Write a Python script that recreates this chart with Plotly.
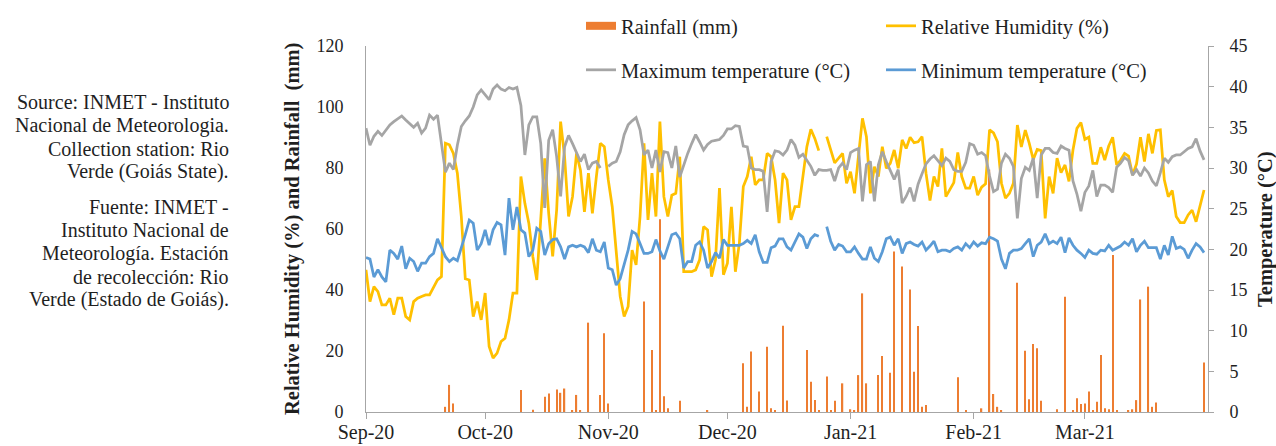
import pandas as pd
import plotly.graph_objects as go

# Daily series, 1 Sep 2020 - 31 Mar 2021 (None = missing reading)
days = pd.date_range("2020-09-01", "2021-03-31", freq="D")

relative_humidity = [
    46.6, 36.2, 41.1, 39.5, 35.1, 35.1, 37.3, 31.9, 37.3, 37.3,
    31.3, 30.2, 36.2, 37.3, 37.9, 38.4, 38.4, 41.1, 43.3, 44.4,
    88.1, 87.6, 84.8, 78.3, 64.1, 43.7, 43.3, 31.3, 36.2, 30.2,
    39.0, 21.5, 17.7, 19.3, 23.1, 24.2, 30.2, 39.0, 39.0, 77.2,
    68.4, 61.9, 51.0, 43.3, 61.9, 83.2, 65.1, 51.0, 66.2, 95.2,
    83.7, 64.1, 70.6, 84.8, 79.3, 65.6, 78.3, 65.1, 77.2, 88.1,
    87.0, 76.1, 67.3, 52.0, 37.9, 31.3, 34.6, 53.1, 48.2, 64.1,
    88.1, 63.0, 78.3, 64.1, 95.2, 70.6, 64.1, 71.1, 71.7, 83.7,
    46.0, 46.0, 46.0, 46.6, 49.9, 60.8, 59.7, 44.4, 49.9, 73.4,
    45.0, 48.8, 67.3, 46.0, 55.3, 73.9, 77.2, 83.7, 74.5, 76.1,
    76.1, 84.8, 83.7, 76.1, 61.9, 78.3, 76.1, 63.0, 67.3, 67.3,
    77.2, 87.0, 92.7, 89.7, 85.7, None, 90.3, 85.9, 81.7, 83.2,
    84.8, 75.0, 78.8, 71.7, 83.7, 96.3, 90.3, 71.7, 80.4, 77.2,
    87.0, 79.9, 81.5, 85.9, 79.9, 89.2, 86.4, 90.1, 88.3, 88.6,
    90.3, 78.3, 69.3, 77.2, 73.9, 86.4, 70.6, 72.8, 75.2, 85.1,
    77.2, 73.4, 73.4, 77.2, 71.1, 73.7, 74.8, 92.5, 91.5, 88.6,
    75.0, 70.1, 71.7, 75.0, 94.1, 86.9, 92.4, 88.1, 82.8, 86.1,
    85.7, 63.5, 77.2, 71.7, 83.2, 78.5, 81.0, 75.6, 85.9, 93.0,
    94.9, 89.4, 90.1, 81.5, 81.5, 86.8, 82.6, 87.2, 90.1, 81.0,
    82.6, 84.8, 83.9, 77.7, 81.3, 90.1, 82.1, 91.2, 84.8, 92.3,
    92.5, 76.1, 70.6, 72.6, 64.1, 62.1, 62.1, 64.6, 66.2, 62.4,
    67.9, 72.8,
]

max_temperature = [
    34.9, 32.8, 33.9, 34.5, 34.0, 34.7, 35.3, 35.7, 36.0, 36.4,
    35.9, 35.5, 35.0, 35.5, 34.3, 34.9, 36.5, 36.0, 36.5, 33.0,
    29.5, 30.6, 29.8, 32.8, 35.1, 35.8, 36.4, 37.5, 39.0, 39.6,
    39.0, 38.4, 39.7, 40.2, 39.7, 39.5, 39.9, 39.7, 39.9, 37.7,
    31.6, 35.3, 36.3, 36.3, 33.0, 25.1, 33.4, 34.7, 31.4, 26.5,
    32.6, 34.0, 33.0, 31.8, 30.8, 31.7, 29.8, 30.6, 30.8, 30.0,
    None, 30.2, 30.6, 30.8, 32.0, 34.1, 35.3, 35.8, 36.2, 34.7,
    31.6, 32.2, 30.0, 32.2, 29.5, 32.0, 31.9, 30.0, 32.7, 28.9,
    30.4, 31.8, 33.0, 34.1, 33.2, 32.2, 32.9, 33.3, 33.4, 33.5,
    34.0, 34.8, 34.8, 35.2, 35.1, 32.7, 32.6, 30.0, 29.8, 29.8,
    29.6, 24.6, 30.8, 32.1, 32.0, 31.6, 32.2, 33.5, 32.8, 31.3,
    31.7, 31.0, 30.2, 29.1, 29.8, 29.7, 29.7, 29.8, 28.4, 30.0,
    30.6, 29.8, 31.9, 32.2, 32.4, 25.9, 30.4, 30.8, 25.9, 30.4,
    32.0, 30.8, 29.8, 28.6, 29.8, 25.7, 26.5, 27.6, 25.9, 28.0,
    29.3, 30.5, 31.1, 31.5, 30.9, 30.3, 31.2, 30.8, 29.8, 29.6,
    29.6, 30.7, 33.0, 32.8, 31.7, 31.9, 31.5, 29.0, 27.1, 27.4,
    30.6, 31.7, 31.2, 30.2, 23.8, 28.7, 30.1, 29.7, 31.2, 26.3,
    31.6, 32.4, 32.4, 31.9, 31.8, 32.7, 32.4, 32.2, 28.4, 26.8,
    24.7, 27.0, 27.8, 29.7, 26.5, 27.9, 27.9, 27.6, 27.0, 30.1,
    30.6, 31.3, 30.9, 29.1, 29.8, 29.0, 30.0, 29.4, 28.4, 27.8,
    29.4, 31.2, 30.7, 31.4, 31.6, 31.6, 32.0, 32.4, 32.6, 33.6,
    32.1, 31.0,
]

min_temperature = [
    19.0, 18.8, 16.6, 17.5, 16.6, 16.0, 19.9, 19.5, 18.8, 20.4,
    17.6, 18.9, 18.5, 17.3, 18.3, 18.3, 19.1, 19.5, 21.3, 20.1,
    19.1, 18.5, 18.9, 18.6, 20.1, 21.8, 23.6, 23.2, 19.9, 20.7,
    22.4, 20.5, 22.4, 23.3, 23.0, 19.3, 26.3, 22.4, 25.2, 22.4,
    22.0, 19.1, 19.9, 22.6, 22.2, 19.3, 20.7, 21.2, 21.3, 20.3,
    18.8, 20.3, 20.5, 20.3, 20.5, 20.3, 19.6, 21.3, 19.9, 19.7,
    20.9, 17.7, 17.5, 15.6, 16.4, 18.3, 19.9, 22.2, 21.9, 20.7,
    19.5, 19.5, 19.7, 21.2, 19.8, 18.8, 20.3, 21.8, 22.0, 21.3,
    17.7, 18.5, 18.5, 20.5, 20.9, 19.9, 17.7, 18.5, 19.6, 18.9,
    21.2, 20.5, 20.5, 20.5, 20.5, 20.7, 21.1, 20.7, 21.8, 19.7,
    18.4, 18.4, 20.2, 20.4, 21.3, 21.3, 20.3, 19.9, 21.0, 21.9,
    21.5, 20.1, 21.3, 21.8, 21.6, None, 22.8, 21.0, 19.9, 20.6,
    20.4, 19.7, 19.7, 20.3, 19.5, 18.8, 18.8, 20.3, 18.9, 18.5,
    19.7, 21.3, 21.5, 20.5, 21.3, 19.5, 20.7, 20.9, 20.6, 20.4,
    20.9, 19.9, 20.4, 21.0, 19.7, 19.9, 19.9, 19.7, 20.1, 20.3,
    19.9, 20.7, 20.2, 20.9, 20.4, 20.8, 20.7, 21.5, 21.3, 21.0,
    18.8, 17.6, 19.5, 19.9, 19.9, 20.1, 20.7, 21.3, 19.1, 20.5,
    20.9, 21.9, 20.7, 21.0, 20.7, 21.5, 19.6, 21.4, 20.5, 19.9,
    19.5, 19.0, 19.9, 19.5, 19.4, 19.9, 19.8, 20.5, 19.9, 20.1,
    20.4, 20.9, 20.5, 21.3, 19.7, 20.5, 21.0, 20.2, 20.2, 20.2,
    18.8, 20.5, 19.3, 21.6, 20.1, 20.3, 20.0, 18.9, 19.9, 20.7,
    20.3, 19.6,
]

# Rainy days only (mm); all other days recorded 0 mm
rain_dates = [
    "2020-09-21", "2020-09-22", "2020-09-23", "2020-10-10", "2020-10-13",
    "2020-10-16", "2020-10-17", "2020-10-19", "2020-10-20", "2020-10-21",
    "2020-10-23", "2020-10-24", "2020-10-25", "2020-10-27", "2020-10-30",
    "2020-10-31", "2020-11-01", "2020-11-10", "2020-11-12", "2020-11-13",
    "2020-11-14", "2020-11-15", "2020-11-16", "2020-11-19", "2020-11-26",
    "2020-12-05", "2020-12-06", "2020-12-07", "2020-12-09", "2020-12-11",
    "2020-12-12", "2020-12-13", "2020-12-15", "2020-12-16", "2020-12-21",
    "2020-12-22", "2020-12-23", "2020-12-24", "2020-12-26", "2020-12-27",
    "2020-12-28", "2020-12-30", "2021-01-01", "2021-01-02", "2021-01-03",
    "2021-01-04", "2021-01-05", "2021-01-08", "2021-01-09", "2021-01-11",
    "2021-01-12", "2021-01-14", "2021-01-16", "2021-01-17", "2021-01-18",
    "2021-01-19", "2021-01-20", "2021-01-28", "2021-01-30", "2021-02-03",
    "2021-02-05", "2021-02-06", "2021-02-07", "2021-02-08", "2021-02-12",
    "2021-02-14", "2021-02-15", "2021-02-16", "2021-02-17", "2021-02-18",
    "2021-02-22", "2021-02-24", "2021-02-26", "2021-02-27", "2021-02-28",
    "2021-03-01", "2021-03-02", "2021-03-03", "2021-03-04", "2021-03-05",
    "2021-03-06", "2021-03-07", "2021-03-08", "2021-03-09", "2021-03-12",
    "2021-03-13", "2021-03-14", "2021-03-15", "2021-03-17", "2021-03-18",
    "2021-03-19", "2021-03-31",
]
rain_mm = [
    1.7, 8.9, 2.8, 7.2, 0.7,
    5.0, 6.1, 7.4, 6.3, 7.7,
    0.6, 5.6, 0.5, 29.3, 5.6,
    25.8, 2.8, 36.2, 20.3, 0.5,
    63.2, 5.2, 1.2, 3.7, 0.5,
    16.0, 1.7, 19.8, 6.7, 21.4,
    1.2, 0.6, 28.3, 3.8, 20.3,
    9.9, 3.9, 0.4, 11.6, 0.4,
    3.7, 9.4, 0.9, 0.4, 12.1,
    38.9, 9.4, 12.1, 18.4, 12.9,
    52.6, 47.7, 40.2, 13.2, 28.2,
    1.7, 2.3, 11.4, 0.4, 1.2,
    79.5, 5.9, 1.7, 0.4, 42.4,
    20.1, 4.2, 22.3, 20.9, 3.7,
    0.9, 37.8, 0.4, 4.5, 2.6,
    2.8, 6.7, 0.5, 3.4, 18.7,
    1.2, 0.9, 51.5, 0.4, 0.4,
    0.9, 3.9, 36.9, 41.1, 1.7,
    3.1, 16.2,
]

month_ticks = ["2020-09-01", "2020-10-01", "2020-11-01", "2020-12-01",
               "2021-01-01", "2021-02-01", "2021-03-01"]
month_labels = ["Sep-20", "Oct-20", "Nov-20", "Dec-20", "Jan-21", "Feb-21", "Mar-21"]

source_lines = [
    "Source: INMET - Instituto",
    "Nacional de Meteorologia.",
    "Collection station: Rio",
    "Verde (Goiás State).",
]
fuente_lines = [
    "Fuente: INMET -",
    "Instituto Nacional de",
    "Meteorología. Estación",
    "de recolección: Rio",
    "Verde (Estado de Goiás).",
]

SERIF = "Liberation Serif"
TEXT = "#1f1f1f"
AXIS = "#a6a6a6"
ORANGE = "#ED7D31"
YELLOW = "#FFC000"
GREY = "#A5A5A5"
BLUE = "#5B9BD5"

# pixel geometry of the plotting area
W, H = 1276, 446
L, R, T, B = 366, 68, 46, 34
PW, PH = W - L - R, H - T - B


def px_x(x):
    return (x - L) / PW


def px_y(y):
    return (H - B - y) / PH


fig = go.Figure()

fig.add_trace(go.Bar(
    x=rain_dates, y=rain_mm, name="Rainfall (mm)",
    marker=dict(color=ORANGE, line=dict(width=0)),
    width=0.32 * 86400000, showlegend=False, yaxis="y",
))
# legend swatch for the rainfall bars
fig.add_trace(go.Scatter(
    x=[None], y=[None], mode="lines", name="Rainfall (mm)",
    line=dict(color=ORANGE, width=8), legend="legend", yaxis="y",
))
fig.add_trace(go.Scatter(
    x=days, y=relative_humidity, mode="lines", name="Relative Humidity (%)",
    line=dict(color=YELLOW, width=2.75), connectgaps=False,
    legend="legend2", yaxis="y",
))
fig.add_trace(go.Scatter(
    x=days, y=max_temperature, mode="lines", name="Maximum temperature (°C)",
    line=dict(color=GREY, width=2.75), connectgaps=False,
    legend="legend3", yaxis="y2",
))
fig.add_trace(go.Scatter(
    x=days, y=min_temperature, mode="lines", name="Minimum temperature (°C)",
    line=dict(color=BLUE, width=2.75), connectgaps=False,
    legend="legend4", yaxis="y2",
))

legend_font = dict(family=SERIF, size=20.5, color=TEXT)


def legend_box(x_px, y_px):
    return dict(x=px_x(x_px), y=px_y(y_px), xanchor="left", yanchor="middle",
                orientation="h", font=legend_font, bgcolor="rgba(0,0,0,0)",
                borderwidth=0, itemsizing="trace")


annotations = []
for i, line in enumerate(source_lines):
    annotations.append(dict(
        text=line, x=px_x(231), y=px_y(102 + 23.3 * i), xref="paper", yref="paper",
        xanchor="right", yanchor="middle", showarrow=False,
        font=dict(family=SERIF, size=20, color=TEXT)))
for i, line in enumerate(fuente_lines):
    annotations.append(dict(
        text=line, x=px_x(231), y=px_y(207 + 23.2 * i), xref="paper", yref="paper",
        xanchor="right", yanchor="middle", showarrow=False,
        font=dict(family=SERIF, size=20, color=TEXT)))

annotations.append(dict(
    text="<b>Relative Humidity (%) and Rainfall  (mm)</b>", textangle=-90,
    x=px_x(292), y=0.5, xref="paper", yref="paper", xanchor="center", yanchor="middle",
    showarrow=False, font=dict(family=SERIF, size=20.5, color=TEXT)))
annotations.append(dict(
    text="<b>Temperature (°C)</b>", textangle=-90,
    x=px_x(1265), y=0.5, xref="paper", yref="paper", xanchor="center", yanchor="middle",
    showarrow=False, font=dict(family=SERIF, size=20.5, color=TEXT)))

fig.update_layout(
    width=W, height=H,
    margin=dict(l=L, r=R, t=T, b=B, pad=0, autoexpand=False),
    paper_bgcolor="white", plot_bgcolor="white",
    barmode="overlay",
    xaxis=dict(
        type="date", range=["2020-09-01", "2021-04-01"],
        tickmode="array", tickvals=month_ticks, ticktext=month_labels,
        ticks="outside", ticklen=6, tickcolor=AXIS, tickwidth=1,
        showline=True, linecolor=AXIS, linewidth=1,
        showgrid=False, zeroline=False, automargin=False,
        ticklabelstandoff=-4,
        tickfont=dict(family=SERIF, size=20, color=TEXT),
    ),
    yaxis=dict(
        range=[0, 120], tick0=0, dtick=20,
        showline=True, linecolor=AXIS, linewidth=1, ticks="",
        showgrid=False, zeroline=False, ticklabelstandoff=18, automargin=False,
        tickfont=dict(family=SERIF, size=18, color=TEXT),
    ),
    yaxis2=dict(
        range=[0, 45], tick0=0, dtick=5, overlaying="y", side="right",
        showline=True, linecolor=AXIS, linewidth=1,
        ticks="outside", ticklen=5, tickcolor=AXIS, tickwidth=1,
        showgrid=False, zeroline=False, ticklabelstandoff=12, automargin=False,
        tickfont=dict(family=SERIF, size=18, color=TEXT),
    ),
    legend=legend_box(581, 26),
    legend2=legend_box(881, 26),
    legend3=legend_box(581, 70),
    legend4=legend_box(881, 70),
    annotations=annotations,
)

fig.write_html("out.html")
